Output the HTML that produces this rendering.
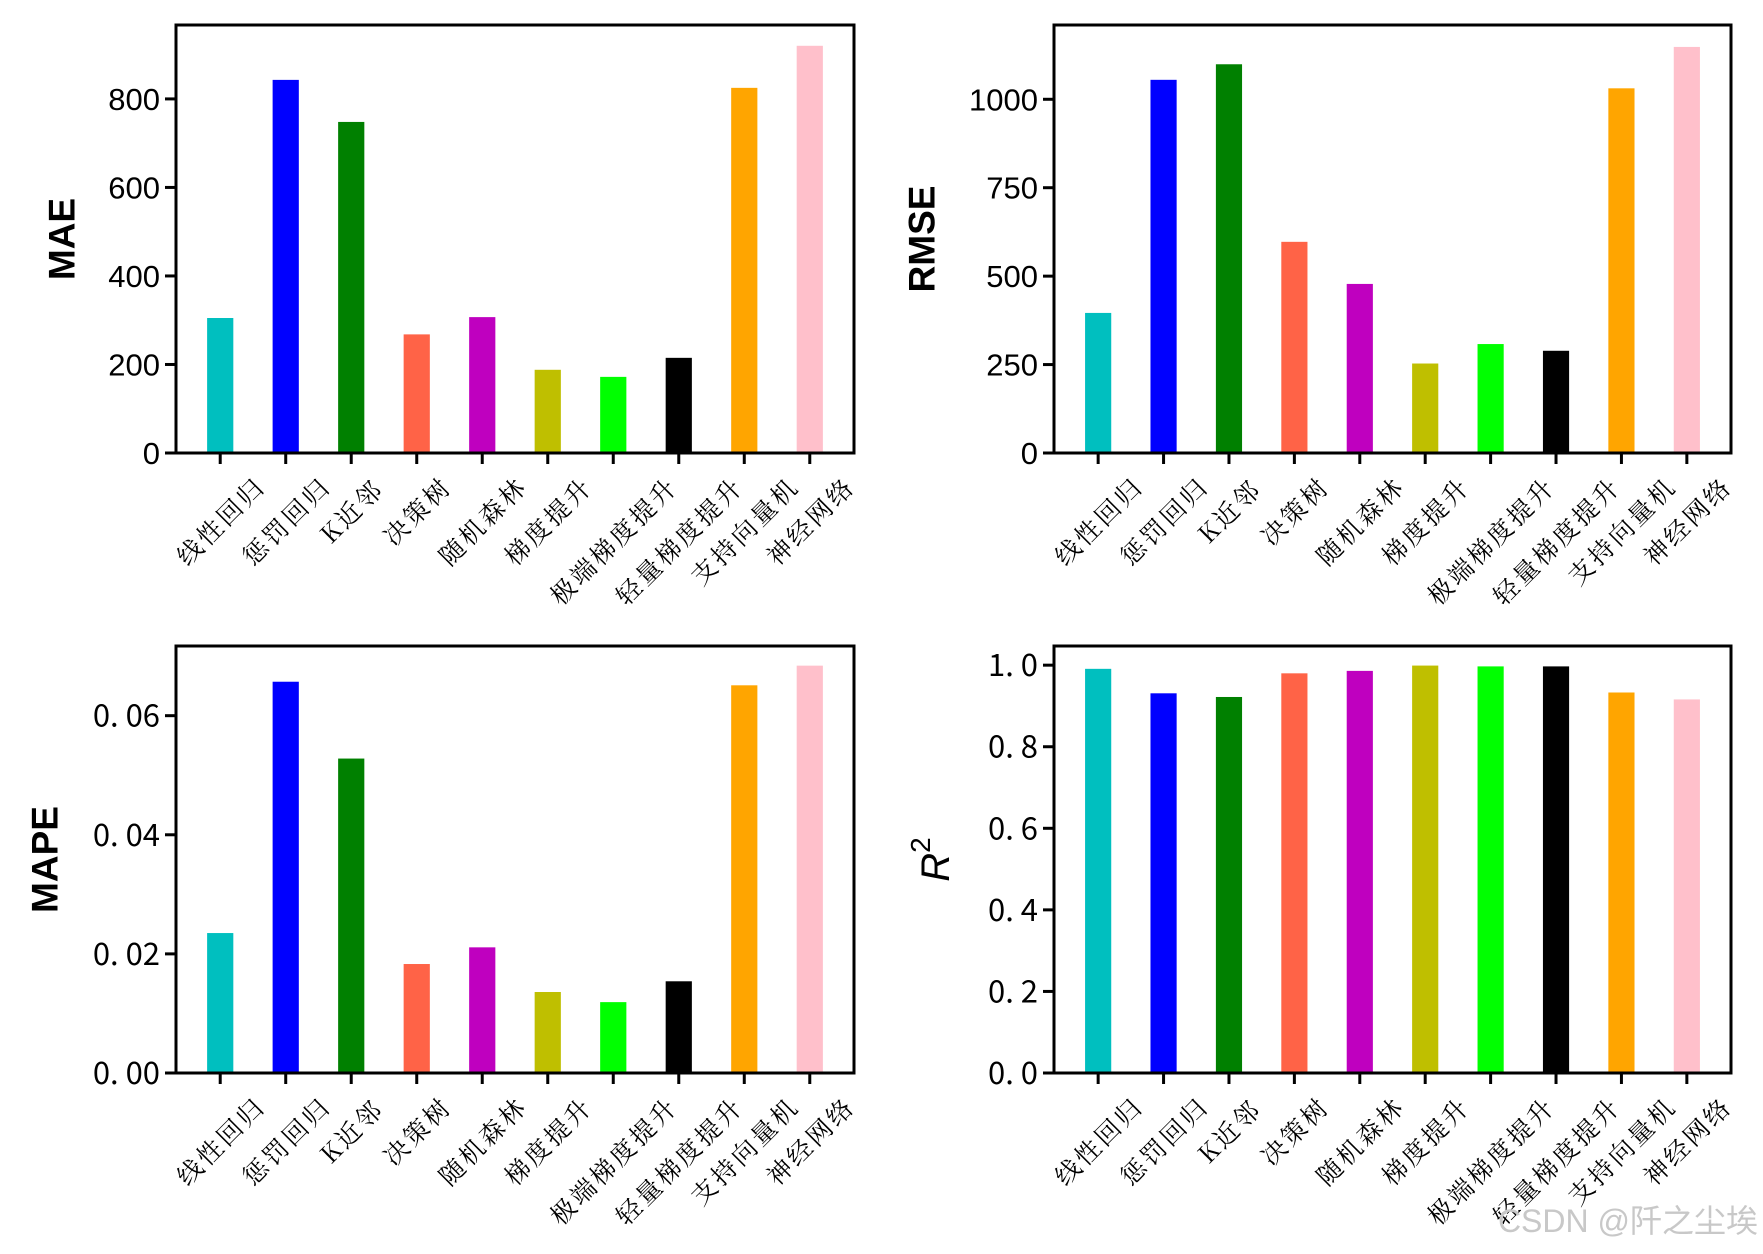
<!DOCTYPE html>
<html><head><meta charset="utf-8"><style>
html,body{margin:0;padding:0;background:#fff;width:1763px;height:1254px;overflow:hidden}
svg{display:block}
text{font-family:"Liberation Sans","Noto Sans CJK SC",sans-serif;fill:#000}
</style></head><body>
<svg id="chart" width="1763" height="1254" viewBox="0 0 1763 1254" xmlns="http://www.w3.org/2000/svg"></svg>
<script>
const categories = ["线性回归","惩罚回归","K近邻","决策树","随机森林","梯度提升","极端梯度提升","轻量梯度提升","支持向量机","神经网络"];
const colors = ["#00bfbf","#0000ff","#008000","#ff6347","#bf00bf","#bfbf00","#00ff00","#000000","#ffa500","#ffc0cb"];
const maeValues = [305,843,748,268,307,188,172,215,825,920];
const rmseValues = [396,1055,1099,597,478,253,308,289,1031,1148];
const mapeValues = [0.0235,0.0657,0.0528,0.0183,0.0211,0.0136,0.0119,0.0154,0.0651,0.0684];
const r2Values = [0.991,0.931,0.922,0.980,0.986,0.999,0.997,0.997,0.933,0.916];
const maeTicks = [0,200,400,600,800];
const rmseTicks = [0,250,500,750,1000];
const mapeTicks = [0,0.02,0.04,0.06];
const mapeTickLabels = ["0. 00","0. 02","0. 04","0. 06"];
const r2Ticks = [0,0.2,0.4,0.6,0.8,1.0];
const r2TickLabels = ["0. 0","0. 2","0. 4","0. 6","0. 8","1. 0"];

const NS="http://www.w3.org/2000/svg";
const svg=document.getElementById('chart');
function mk(tag,attrs,parent){const e=document.createElementNS(NS,tag);for(const k in attrs)e.setAttribute(k,attrs[k]);(parent||svg).appendChild(e);return e;}

function panel(name,L,T,R,B,values,ymax,ticks,tickLabels,ylabel,cjkTicks,isR2,labelOff){
  const g=mk('g',{});
  
  
  const xmin=-0.675,xmax=9.675;
  const xs=v=>L+(v-xmin)/(xmax-xmin)*(R-L);
  const ys=v=>B-v/ymax*(B-T);
  const bw=0.4*(R-L)/(xmax-xmin);
  values.forEach((v,i)=>{
    const r=mk('rect',{x:xs(i)-bw/2,y:ys(v),width:bw,height:B-ys(v),fill:colors[i]},g);
    
    
  });
  const f=mk('rect',{x:L,y:T,width:R-L,height:B-T,fill:'none',stroke:'#000','stroke-width':3},g);
  
  
  ticks.forEach((t,i)=>{
    const y=ys(t);
    mk('line',{x1:L-11,x2:L,y1:y,y2:y,stroke:'#000','stroke-width':3},g);
    const tx=mk('text',{x:L-16,y:y+11,'text-anchor':'end','font-size':31},g);
    if(cjkTicks) tx.setAttribute('style','font-family:"Noto Sans CJK SC",sans-serif');
    tx.textContent=tickLabels[i];
    
    
  });
  categories.forEach((c,i)=>{
    const x=xs(i);
    mk('line',{x1:x,x2:x,y1:B,y2:B+11,stroke:'#000','stroke-width':3},g);
    const n=c.length, fs=25, ls=3;
    const half=(n*(fs+ls)+fs)/1.414/2;
    const cy=B+19+half;
    const tx=mk('text',{x:x,y:cy,'text-anchor':'middle','dominant-baseline':'central','font-size':fs,'letter-spacing':ls,transform:`rotate(-45 ${x} ${cy})`,style:'font-family:"Noto Serif CJK SC","Noto Sans CJK SC",serif'},g);
    tx.textContent=c;
    
    
  });
  const ly=(T+B)/2;
  const lx=L-labelOff;
  const yl=mk('text',{x:lx,y:ly,'text-anchor':'middle','dominant-baseline':'central','font-size':isR2?40:37,'font-weight':isR2?'normal':'bold',transform:`rotate(-90 ${lx} ${ly})`,'font-style':isR2?'italic':'normal'},g);
  if(isR2){ yl.textContent='R'; const s=mk('tspan',{'font-size':28,'dy':-16,'font-style':'normal'},yl); s.textContent='2'; }
  else yl.textContent=ylabel;
  
  
}
panel('mae',176,25,854,453,maeValues,967,maeTicks,maeTicks.map(String),'MAE',false,false,114);
panel('rmse',1054,25,1731,453,rmseValues,1210,rmseTicks,rmseTicks.map(String),'RMSE',false,false,132);
panel('mape',176,646,854,1073,mapeValues,0.0717,mapeTicks,mapeTickLabels,'MAPE',true,false,131);
panel('r2',1054,646,1731,1073,r2Values,1.047,r2Ticks,r2TickLabels,'R2',true,true,118);
const wm=mk('text',{x:1758,y:1232,'text-anchor':'end','font-size':32,fill:'#c8c8c8',style:'fill:#c8c8c8;font-family:"Liberation Sans","Noto Sans CJK SC",sans-serif'});
wm.textContent='CSDN @阡之尘埃';


</script>
</body></html>
